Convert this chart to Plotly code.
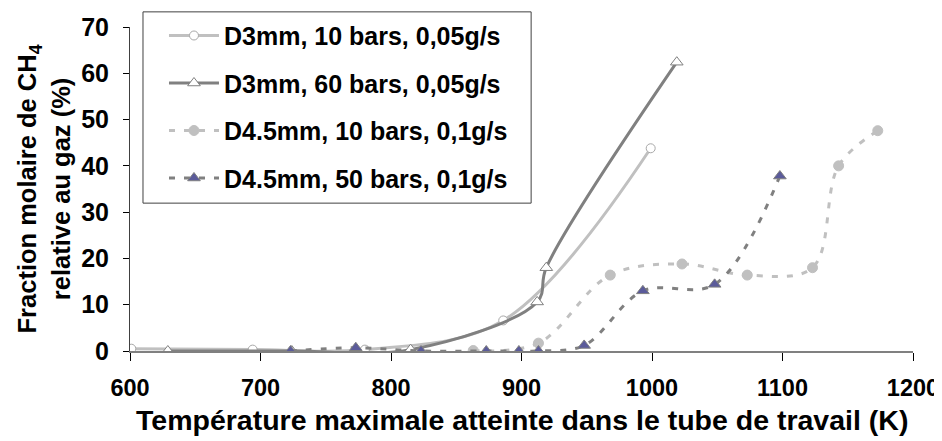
import plotly.graph_objects as go

# D3mm, 10 bars, 0,05g/s
t_d3_10 = [601, 694, 780, 886, 999]
ch4_d3_10 = [0.5, 0.3, 0.3, 6.6, 43.8]

# D3mm, 60 bars, 0,05g/s
t_d3_60 = [629, 724, 815, 912, 919, 1019]
ch4_d3_60 = [0.0, 0.0, 0.3, 10.6, 18.0, 62.4]

# D4.5mm, 10 bars, 0,1g/s
t_d45_10 = [863, 913, 968, 1023, 1073, 1123, 1143, 1173]
ch4_d45_10 = [0.1, 1.7, 16.4, 18.8, 16.4, 18.0, 40.0, 47.6]

# D4.5mm, 50 bars, 0,1g/s
t_d45_50 = [723, 773, 823, 873, 898, 913, 948, 993, 1048, 1098]
ch4_d45_50 = [0.0, 0.7, 0.0, 0.0, 0.0, 0.0, 1.2, 13.0, 14.4, 37.8]

x_ticks = [600, 700, 800, 900, 1000, 1100, 1200]
y_ticks = [0, 10, 20, 30, 40, 50, 60, 70]

X_TITLE = 'Température maximale atteinte dans le tube de travail (K)'
Y_TITLE = 'Fraction molaire de CH<sub>4</sub><br>relative au gaz (%)'

FONT = 'Liberation Sans, Arial, sans-serif'
LIGHT = '#c0c0c0'
DARK = '#808080'

# the page body has an 8px margin, so the figure is drawn 8px down and right
fig = go.Figure()
fig.add_trace(go.Scatter(
    x=t_d3_10, y=ch4_d3_10, name='D3mm, 10 bars, 0,05g/s', legendgroup='a',
    mode='lines+markers', line=dict(color=LIGHT, width=3, shape='spline'),
    marker=dict(symbol='circle', size=9, color='white', line=dict(color='#a8a8a8', width=1)),
))
fig.add_trace(go.Scatter(
    x=t_d3_60, y=ch4_d3_60, name='D3mm, 60 bars, 0,05g/s', legendgroup='b',
    mode='lines+markers', line=dict(color=DARK, width=3, shape='spline'),
    marker=dict(symbol='triangle-up', size=11, color='white', line=dict(color=DARK, width=1)),
))
fig.add_trace(go.Scatter(
    x=t_d45_10, y=ch4_d45_10, name='D4.5mm, 10 bars, 0,1g/s', legendgroup='c',
    mode='lines+markers', line=dict(color=LIGHT, width=3, shape='spline', dash='6px,9px'),
    marker=dict(symbol='circle', size=10, color=LIGHT, line=dict(color=LIGHT, width=1)),
))
fig.add_trace(go.Scatter(
    x=t_d45_50, y=ch4_d45_50, name='D4.5mm, 50 bars, 0,1g/s', legendgroup='d',
    mode='lines+markers', line=dict(color=DARK, width=3, shape='spline', dash='6px,9px'),
    marker=dict(symbol='triangle-up', size=11, color='#5b5b9a', line=dict(color=DARK, width=1)),
))

# legend frame drawn as a shape so the entries can sit with some padding inside it
fig.add_shape(
    type='rect', xref='paper', yref='paper',
    x0=0.0166, x1=0.5123, y0=0.4564, y1=1.0467,
    line=dict(color='#404040', width=1), fillcolor='white', layer='above',
)

# axis titles as annotations, so their position is exact
fig.add_annotation(
    text=X_TITLE, xref='paper', yref='paper', x=0.5, y=-0.214,
    xanchor='center', yanchor='middle', showarrow=False,
    font=dict(family=FONT, size=28.5, color='black', weight='bold'),
)
fig.add_annotation(
    text=Y_TITLE, xref='paper', yref='paper', x=-0.1105, y=0.5,
    xanchor='center', yanchor='middle', showarrow=False, textangle=-90,
    font=dict(family=FONT, size=25.5, color='black', weight='bold'),
)

fig.update_layout(
    width=942, height=433,
    margin=dict(l=122, r=37, t=19, b=90, autoexpand=False),
    paper_bgcolor='white', plot_bgcolor='white',
    font=dict(family=FONT, size=24, color='black', weight='bold'),
    showlegend=True,
    legend=dict(
        x=0.0434, y=1.044, xanchor='left', yanchor='top',
        bgcolor='rgba(0,0,0,0)', borderwidth=0,
        traceorder='grouped', tracegroupgap=12, itemwidth=50,
        font=dict(family=FONT, size=25, color='black', weight='bold'),
    ),
    xaxis=dict(
        range=[600, 1200], tickvals=x_ticks, showgrid=False, zeroline=False,
        showline=True, linecolor=DARK, linewidth=2, automargin=False,
        ticks='outside', ticklen=8, tickcolor='black', tickwidth=1,
        ticklabelstandoff=7,
        tickfont=dict(family=FONT, size=23.5, color='black', weight='bold'),
    ),
    yaxis=dict(
        range=[0, 70], tickvals=y_ticks, showgrid=False, zeroline=False,
        showline=True, linecolor='#404040', linewidth=1, automargin=False,
        ticks='outside', ticklen=6, tickcolor='black', tickwidth=1,
        ticklabelstandoff=9,
        tickfont=dict(family=FONT, size=25, color='black', weight='bold'),
    ),
)

fig.write_html('out.html')
